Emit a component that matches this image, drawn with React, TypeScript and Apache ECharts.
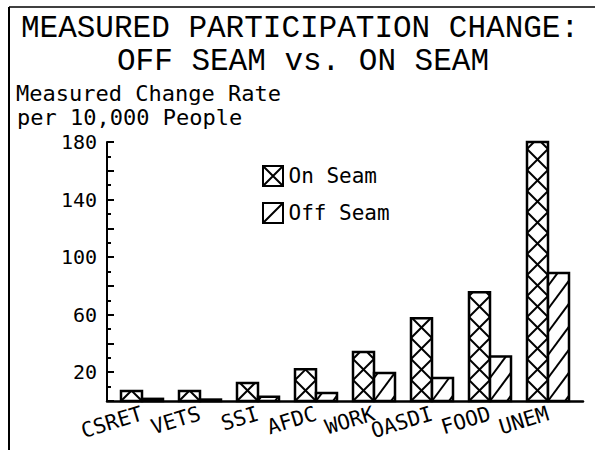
import React, { useEffect, useRef } from "react";
import * as echarts from "echarts";

const categories = ["CSRET", "VETS", "SSI", "AFDC", "WORK", "OASDI", "FOOD", "UNEM"];
const onSeam = [7, 7, 12.5, 22, 34, 57.5, 75.5, 180];
const offSeam = [1.5, 1, 3, 5.5, 19.5, 16, 31, 89];
const yTickLabels = [20, 60, 100, 140, 180];
const titleLines = ["MEASURED PARTICIPATION CHANGE:", "OFF SEAM vs. ON SEAM"];
const yNameLines = ["Measured Change Rate", "per 10,000 People"];

const MONO = "'DejaVu Sans Mono', monospace";
const BAR_W = 21;

function clipSeg(x1: number, y1: number, x2: number, y2: number, yTop: number, yBot: number) {
  if (y1 < y2) {
    const tx = x1, ty = y1;
    x1 = x2; y1 = y2; x2 = tx; y2 = ty;
  }
  if (y1 <= yTop || y2 >= yBot) return null;
  if (y1 > yBot) {
    const t = (y1 - yBot) / (y1 - y2);
    x1 = x1 + t * (x2 - x1);
    y1 = yBot;
  }
  if (y2 < yTop) {
    const t = (y1 - yTop) / (y1 - y2);
    x2 = x1 + t * (x2 - x1);
    y2 = yTop;
  }
  return { x1, y1, x2, y2 };
}

function makeRender(side: "on" | "off") {
  return (params: any, api: any) => {
    const idx = api.value(0);
    const v = api.value(1);
    const base = api.coord([idx, 0]);
    const top = api.coord([idx, v]);
    const w = BAR_W;
    const x0 = side === "on" ? base[0] - w : base[0];
    const yb = base[1];
    const yt = top[1];
    const segs: any[] = [];
    if (side === "on") {
      for (let k = 0; yb - k * w > yt; k++) {
        const a = clipSeg(x0, yb - k * w, x0 + w, yb - (k + 1) * w, yt, yb);
        const b = clipSeg(x0 + w, yb - k * w, x0, yb - (k + 1) * w, yt, yb);
        if (a) segs.push(a);
        if (b) segs.push(b);
      }
    } else {
      const p = 23;
      const r = w * 1.35;
      for (let k = -Math.ceil(r / p); yb - k * p > yt; k++) {
        const a = clipSeg(x0, yb - k * p, x0 + w, yb - k * p - r, yt, yb);
        if (a) segs.push(a);
      }
    }
    const children: any[] = [
      {
        type: "rect",
        shape: { x: x0, y: yt, width: w, height: yb - yt },
        style: { fill: "#fff", stroke: "none" },
      },
      ...segs.map((s) => ({
        type: "line",
        shape: s,
        style: { stroke: "#000", lineWidth: 2 },
      })),
      {
        type: "rect",
        shape: { x: x0, y: yt, width: w, height: yb - yt },
        style: { fill: "none", stroke: "#000", lineWidth: 2.5 },
      },
    ];
    return { type: "group", children };
  };
}

export default function App() {
  const ref = useRef<HTMLDivElement>(null);
  useEffect(() => {
    document.body.style.margin = "0";
    const chart = echarts.init(ref.current!, null, { renderer: "svg" });
    const gridTop = 142;
    const gridH = 259;
    const titleStyle = {
      fontFamily: "'Liberation Mono', monospace",
      fontSize: 31,
      fontWeight: "normal",
      lineHeight: 30,
      color: "#000",
    };
    const nameStyle = {
      fontFamily: MONO,
      fontSize: 22,
      fontWeight: "normal",
      lineHeight: 22,
      color: "#000",
    };
    chart.setOption({
      animation: false,
      backgroundColor: "#fff",
      title: [
        { text: titleLines[0], left: 300, textAlign: "center", top: 13, padding: 0, textStyle: titleStyle },
        { text: titleLines[1], left: 303, textAlign: "center", top: 46, padding: 0, textStyle: titleStyle },
        { text: yNameLines[0], left: 16, top: 82, padding: 0, textStyle: nameStyle },
        { text: yNameLines[1], left: 17, top: 106, padding: 0, textStyle: nameStyle },
      ],
      legend: {
        orient: "vertical",
        left: 262,
        top: 165,
        padding: 0,
        itemWidth: 21,
        itemHeight: 20,
        itemGap: 15,
        textStyle: { fontFamily: MONO, fontSize: 21, color: "#000", padding: [0, 0, 0, 0] },
        itemStyle: { color: "#fff", borderColor: "#000", borderWidth: 2 },
        data: [
          { name: "On Seam", icon: "path://M0 0H20V20H0Z M0 0L20 20 M20 0L0 20" },
          { name: "Off Seam", icon: "path://M0 0H20V20H0Z M0 20L20 0" },
        ],
      },
      grid: [
        { left: 107, top: gridTop, width: 476, height: gridH },
        { left: 113, top: gridTop, width: 464, height: gridH },
      ],
      xAxis: [
        {
          gridIndex: 0,
          type: "value",
          min: 0,
          max: 1,
          axisLine: { show: true, lineStyle: { color: "#000", width: 2.5 } },
          axisTick: { show: false },
          axisLabel: { show: false },
          splitLine: { show: false },
        },
        {
          gridIndex: 1,
          type: "category",
          data: categories,
          axisLine: { show: false },
          axisTick: { show: false },
          splitLine: { show: false },
          axisLabel: {
            interval: 0,
            rotate: 17,
            margin: 12,
            fontFamily: MONO,
            fontSize: 21,
            color: "#000",
          },
        },
      ],
      yAxis: [
        {
          gridIndex: 0,
          type: "value",
          min: 0,
          max: 180,
          interval: 20,
          axisLine: { show: true, lineStyle: { color: "#000", width: 2 } },
          axisTick: { show: true, inside: true, length: 7, lineStyle: { color: "#000", width: 2 } },
          minorTick: { show: true, splitNumber: 2, length: 4, lineStyle: { color: "#000", width: 2 } },
          splitLine: { show: false },
          axisLabel: {
            margin: 10,
            fontFamily: MONO,
            fontSize: 20,
            color: "#000",
            formatter: (val: number) => (yTickLabels.indexOf(val) >= 0 ? String(val) : ""),
          },
        },
        {
          gridIndex: 1,
          type: "value",
          min: 0,
          max: 180,
          show: false,
          splitLine: { show: false },
        },
      ],
      series: [
        {
          name: "On Seam",
          type: "custom",
          xAxisIndex: 1,
          yAxisIndex: 1,
          itemStyle: { color: "#000" },
          renderItem: makeRender("on"),
          encode: { x: 0, y: 1 },
          data: categories.map((c, i) => [i, onSeam[i]]),
        },
        {
          name: "Off Seam",
          type: "custom",
          xAxisIndex: 1,
          yAxisIndex: 1,
          itemStyle: { color: "#000" },
          renderItem: makeRender("off"),
          encode: { x: 0, y: 1 },
          data: categories.map((c, i) => [i, offSeam[i]]),
        },
      ],
      graphic: [
        {
          type: "line",
          shape: { x1: 9, y1: 7, x2: 595, y2: 7 },
          style: { stroke: "#000", lineWidth: 1.5 },
          silent: true,
        },
        {
          type: "line",
          shape: { x1: 9, y1: 7, x2: 9, y2: 450 },
          style: { stroke: "#000", lineWidth: 2 },
          silent: true,
        },
      ],
    });
    return () => chart.dispose();
  }, []);
  return <div ref={ref} style={{ width: 595, height: 450 }} />;
}
